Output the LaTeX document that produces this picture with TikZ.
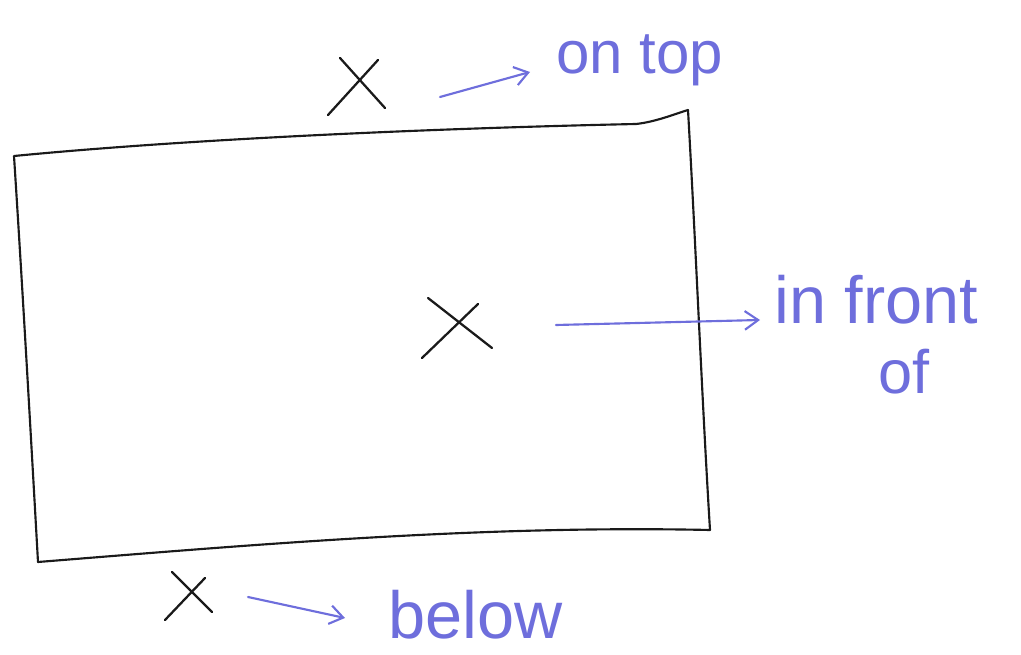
\documentclass[tikz,border=0pt]{standalone}
\usepackage{fontspec}
\setmainfont{Liberation Sans}
\usetikzlibrary{arrows.meta}
\definecolor{pen}{HTML}{6E6EDC}
\definecolor{ink}{HTML}{1A1A1A}
\tikzset{
  sketch/.style={draw=ink, line width=1.6pt, line cap=round, line join=round},
  cross/.style={draw=ink, line width=1.7pt, line cap=round},
  pointer/.style={draw=pen, line width=1.6pt, line cap=round, -{Straight Barb[length=10pt,width=14pt,line width=1.6pt]}},
  lbl/.style={text=pen, font=\fontsize{50}{52}\selectfont, inner sep=0pt, anchor=west},
}
\begin{document}
\begin{tikzpicture}[x=0.75pt,y=-0.75pt]
\useasboundingbox (0,0) rectangle (1021,655);
% box
\draw[sketch] (14,156) .. controls (200,138) and (450,128) .. (636,124)
  .. controls (655,122) and (675,114) .. (688,110)
  .. controls (696,250) and (702,400) .. (710,530)
  .. controls (480,525) and (250,545) .. (38,562)
  .. controls (30,420) and (22,280) .. (14,156) -- cycle;
% crosses
\coordinate (t1) at (340,58); \coordinate (t2) at (385,108);
\coordinate (t3) at (328,115); \coordinate (t4) at (378,60);
\draw[cross] (t1) -- (t2); \draw[cross] (t3) -- (t4);
\coordinate (m1) at (428,298); \coordinate (m2) at (492,348);
\coordinate (m3) at (422,358); \coordinate (m4) at (478,304);
\draw[cross] (m1) -- (m2); \draw[cross] (m3) -- (m4);
\coordinate (b1) at (172,572); \coordinate (b2) at (212,612);
\coordinate (b3) at (165,620); \coordinate (b4) at (205,578);
\draw[cross] (b1) -- (b2); \draw[cross] (b3) -- (b4);
% labels
\node[lbl, font=\fontsize{45}{47}\selectfont] (ontop) at (556,60) {on top};
\node[lbl] (front) at (774,300) {in front};
\node[lbl, font=\fontsize{46}{48}\selectfont] (of) at (878,372) {of};
\node[lbl] (below) at (388,615) {below};
% arrows
\coordinate (a1) at (440,97);
\coordinate (a2) at (248,597);
\coordinate (a3) at (556,325);
\draw[pointer] (a1) -- (530,72);
\draw[pointer] (a3) -- (760,320);
\draw[pointer] (a2) -- (345,618);
\end{tikzpicture}
\end{document}
